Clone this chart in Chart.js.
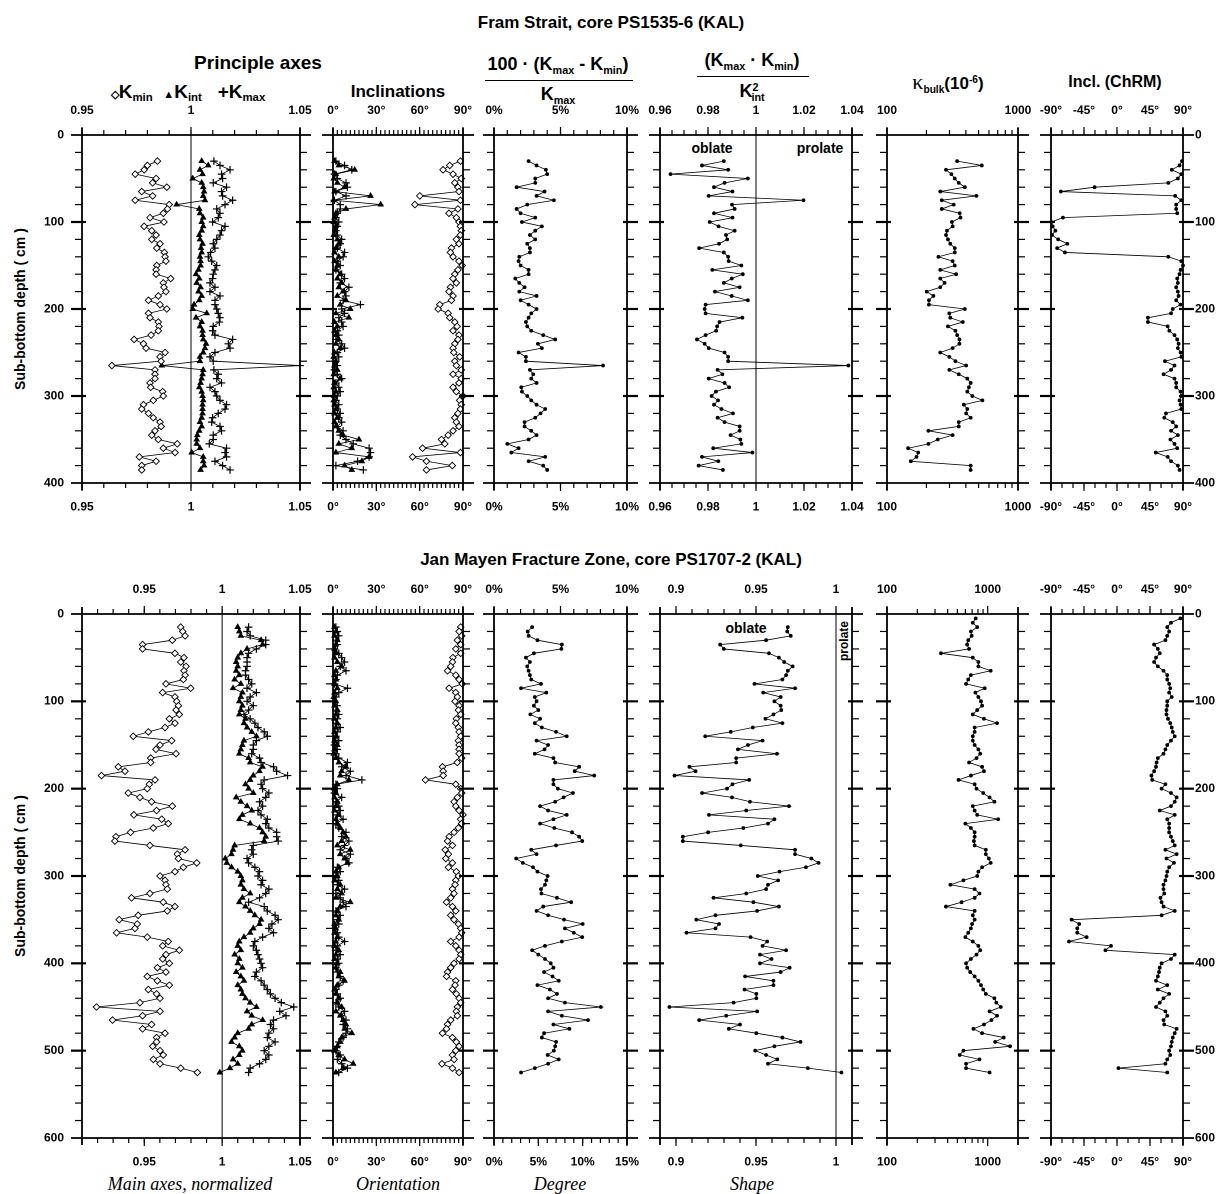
<!DOCTYPE html>
<html><head><meta charset="utf-8">
<script src="https://cdn.jsdelivr.net/npm/chart.js@4.4.1/dist/chart.umd.min.js"></script>
<style>
html,body{margin:0;padding:0;background:#fff;}
body{width:1222px;height:1194px;position:relative;overflow:hidden;font-family:"Liberation Sans",Arial,Helvetica,sans-serif;color:#000;}
canvas{position:absolute;}
.t{position:absolute;white-space:nowrap;font-weight:bold;transform:translate(-50%,-50%);line-height:1;}
.t sub{font-size:60%;vertical-align:-0.35em;line-height:0;}
.t sup{font-size:60%;vertical-align:0.6em;line-height:0;}
.it{font-family:"Liberation Serif","Times New Roman",serif;font-style:italic;font-weight:normal;font-size:18px;}
.rot{transform:translate(-50%,-50%) rotate(-90deg);}
.hl{position:absolute;height:0;border-top:1.6px solid #000;}
</style></head><body>

<div class="t" style="left:611px;top:22px;font-size:17px">Fram Strait, core PS1535-6 (KAL)</div>
<div class="t" style="left:258px;top:62px;font-size:19px">Principle axes</div>
<div class="t" style="left:188px;top:91px;font-size:19px"><span style="font-size:11px">◇</span>K<sub>min</sub>&nbsp; <span style="font-size:11px">▲</span>K<sub>int</sub>&nbsp;&nbsp; +K<sub>max</sub></div>
<div class="t" style="left:398px;top:91px;font-size:17px">Inclinations</div>
<div class="t" style="left:558px;top:64px;font-size:18px">100 · (K<sub>max</sub> - K<sub>min</sub>)</div>
<div class="hl" style="left:485px;top:80px;width:148px"></div>
<div class="t" style="left:558px;top:94px;font-size:18px">K<sub>max</sub></div>
<div class="t" style="left:752px;top:60px;font-size:18px">(K<sub>max</sub> · K<sub>min</sub>)</div>
<div class="hl" style="left:697px;top:76px;width:112px"></div>
<div class="t" style="left:752px;top:91px;font-size:18px">K<sup>2</sup><sub style="margin-left:-7px">int</sub></div>
<div class="t" style="left:948px;top:82px;font-size:17px"><span style="font-family:'Liberation Serif',serif;font-weight:normal;font-size:22px">κ</span><sub>bulk</sub>(10<sup>-6</sup>)</div>
<div class="t" style="left:1115px;top:82px;font-size:16px">Incl. (ChRM)</div>
<div class="t" style="left:712px;top:148px;font-size:14px">oblate</div>
<div class="t" style="left:820px;top:148px;font-size:14px">prolate</div>
<div class="t rot" style="left:20px;top:309px;font-size:14px">Sub-bottom depth ( cm )</div>

<div class="t" style="left:611px;top:559px;font-size:17px">Jan Mayen Fracture Zone, core PS1707-2 (KAL)</div>
<div class="t" style="left:746px;top:628px;font-size:14px">oblate</div>
<div class="t rot" style="left:844px;top:641px;font-size:12px">prolate</div>
<div class="t rot" style="left:20px;top:876px;font-size:14px">Sub-bottom depth ( cm )</div>
<div class="t it" style="left:190px;top:1184px">Main axes, normalized</div>
<div class="t it" style="left:398px;top:1184px">Orientation</div>
<div class="t it" style="left:560px;top:1184px">Degree</div>
<div class="t it" style="left:752px;top:1184px">Shape</div>

<script>
// ---------- Core PS1535-6 (top row) ----------
const depthA=[30,35,40,45,50,55,60,65,70,75,80,85,90,95,100,105,110,115,120,125,130,135,140,145,150,155,160,165,170,175,180,185,190,195,200,205,210,215,220,225,230,235,240,245,250,255,260,265,270,275,280,285,290,295,300,305,310,315,320,325,330,335,340,345,350,355,360,365,370,375,380,385];
const aKmin=[.9846,.980,.9785,.9744,.984,.9824,.9889,.9774,.9824,.9744,
.990,.9892,.9873,.9812,.9876,.9785,.982,.984,.982,.9858,
.9843,.9878,.9881,.9885,.9843,.984,.984,.9907,.9873,.9876,
.9885,.985,.9805,.9858,.9889,.9805,.9812,.985,.9853,.985,
.9817,.9739,.9782,.9794,.9881,.9858,.9863,.9637,.9835,.9835,
.9835,.9812,.9815,.987,.9873,.9827,.9782,.9774,.9805,.9827,
.9858,.9863,.9835,.982,.985,.9937,.9873,.9927,.9763,.984,
.9774,.9774];
const aKint=[1.0049,1.0079,1.0041,1.0053,1.0008,1.0049,1.0056,1.006,1.0056,1.0064,
0.9934,1.0038,1.0041,1.0056,1.0049,1.0056,1.0049,1.0038,1.0041,1.0053,
1.0046,1.0049,1.0041,1.0044,1.0044,1.0034,1.0023,1.0038,1.0026,1.0044,
1.0034,1.0049,1.0038,1.0014,1.0008,1.0072,1.0023,1.0049,1.0041,1.0053,
1.0053,1.0056,1.0069,1.0064,1.0056,1.0041,1.0041,0.9866,1.0056,1.0053,
1.0049,1.0044,1.0038,1.0049,1.0053,1.0056,1.0053,1.0053,1.0053,1.0049,
1.0041,1.0049,1.0038,1.0029,1.0026,1.0026,1.0041,1.0003,1.0056,1.0056,
1.006,1.0044];
const aKmax=[1.0105,1.0133,1.0179,1.014,1.0145,1.0102,1.0163,1.014,1.0145,1.0191,
1.0156,1.0118,1.0133,1.0125,1.0099,1.0156,1.014,1.0133,1.0118,1.0102,
1.011,1.009,1.0079,1.0095,1.0118,1.011,1.0102,1.0099,1.0087,1.011,
1.0087,1.0133,1.011,1.011,1.0118,1.0125,1.0133,1.013,1.0102,1.0099,
1.011,1.0191,1.0171,1.0179,1.011,1.0087,1.0102,1.05,1.0105,1.0125,
1.0118,1.014,1.0087,1.011,1.0118,1.0133,1.0163,1.0156,1.0125,1.0099,
1.0095,1.0133,1.014,1.0102,1.0102,1.0084,1.0163,1.0156,1.0163,1.011,
1.0145,1.0179];
const aIncMin=[88.2,80.8,76.2,83.1,88.8,84.3,86.5,87.2,60.1,88.2,
56.7,86.5,80.3,85.4,87.2,88.2,88.8,88.2,85.4,87.2,
82,81.3,83.1,87.2,89.5,86.5,84.3,83.1,85.4,81.3,
80.3,83.1,82,73.9,72.8,79.7,80.8,84.3,85.9,83.1,
87.2,86.5,84.3,83.1,83.6,87.7,84.3,85.4,88.8,83.1,
88.8,87.2,83.1,85.4,90,87.7,88.8,88.2,86.5,84.3,
85.4,87.2,83.1,79.7,75.1,77.4,62,88.2,55.1,64.7,
82.6,64.7];
const aIncInt=[1,4,15,2,0.5,3,8,1,26,0.5,
33,9,2,1,0.5,2,1.5,0.5,3,4,
2,1,4,1,3,2,5,3,6,4,
7,3,9,5,12,2,11,1,3,1,
2,4,2,5,1,0.5,2,1,3,0.5,
5,1,0.5,2,1,0.5,1,2,1,3,
1,2,4,7,18,4,13,2,25,20,
8,13];
const aIncMax=[2,8,13,1,3,9,10,2,9,1,
5,5,3,2,4,3,2,3,6,5,
3,8,7,3,5,2,6,8,5,11,
8,9,7,19,6,8,4,6,7,3,
4,2,6,8,3,4,2,3,1,3,
6,2,4,5,3,2,4,3,5,4,
6,3,7,5,9,14,25,26,25,17,
2,21];
const aDeg=[2.6,3.2,3.9,4.0,3.1,3.1,1.7,3.8,3.2,4.5,
2.5,1.7,2.0,3.1,2.1,3.6,3.1,2.7,3.1,2.5,
2.7,2.7,1.9,1.85,2.0,2.6,2.6,1.6,1.9,2.3,
1.9,3.2,2.0,2.6,3.2,2.8,2.6,2.4,2.5,2.8,
3.7,4.6,3.3,3.6,1.85,2.4,2.4,8.2,2.7,2.95,
2.8,3.2,2.05,2.1,2.5,2.8,3.2,3.85,3.5,3.1,
2.3,2.3,2.8,3.2,2.6,1.0,1.85,1.3,3.85,2.6,
3.7,4.0];
const aShape=[.9866,.9775,.9884,.9644,.9966,.9869,.9825,.9902,.9803,1.0198,
.9900,.9911,.9825,.9902,.9807,.9844,.9911,.9875,.9880,.9846,
.9763,.9866,.9884,.9886,.9939,.9818,.9945,.9899,.9866,.9932,
.9829,.9899,.9966,.9790,.9786,.9790,.9943,.9848,.9838,.9834,
.9790,.9754,.9786,.9803,.9869,.9884,.9884,1.0385,.9840,.9860,
.9803,.9869,.9888,.9833,.9815,.9842,.9825,.9856,.9904,.9840,
.9869,.9932,.9932,.9894,.9935,.9939,.9822,.9985,.9775,.9843,
.9761,.9862];
const aKbulk=[343,529,282,310,329,353,393,255,481,262,
323,262,359,364,313,317,287,282,292,304,
329,329,247,317,329,255,337,255,275,255,
201,226,209,209,393,299,304,379,292,333,
343,357,357,317,255,299,333,402,299,353,
410,435,422,410,448,535,386,410,402,435,
353,353,207,317,244,207,145,173,168,152,
435,435];
const aChrm=[88.6,85.3,74.7,87.7,83,70,-30.6,-76.5,79.3,87.7,
80.7,80.7,82.1,-73.7,-89.5,-87.7,-84,-88.6,-80.2,-67.7,
-81.6,-71,70,87.7,90,86.7,85.3,82.1,83,80.7,
83,84,80.7,86.7,76,73.7,42.2,42.2,69.1,71.4,
78.4,82.1,84,83,86.7,87.7,65.4,78.4,73.7,63.5,
78.4,80.7,80.7,86.7,87.7,85.3,86.7,87.7,66.8,64.5,
76,80.7,73.7,83,72.8,78.4,82.1,52.9,69.1,73.7,
83,85.3];

// ---------- Core PS1707-2 (bottom row) ----------
const depthB=[15,20,25,30,35,40,45,50,55,60,65,70,75,80,85,90,95,100,105,110,115,120,125,130,135,140,145,150,155,160,165,170,175,180,185,190,195,200,205,210,215,220,225,230,235,240,245,250,255,260,265,270,275,280,285,290,295,300,305,310,315,320,325,330,335,340,345,350,355,360,365,370,375,380,385,390,395,400,405,410,415,420,425,430,435,440,445,450,455,460,465,470,475,480,485,490,495,500,505,510,515,520,525];
const depthB2=[5,10,15,20,25,30,35,40,45,50,55,60,65,70,75,80,85,90,95,100,105,110,115,120,125,130,135,140,145,150,155,160,165,170,175,180,185,190,195,200,205,210,215,220,225,230,235,240,245,250,255,260,265,270,275,280,285,290,295,300,305,310,315,320,325,330,335,340,345,350,355,360,365,370,375,380,385,390,395,400,405,410,415,420,425,430,435,440,445,450,455,460,465,470,475,480,485,490,495,500,505,510,515,520,525];
const bKmin=[.9734,.9747,.9762,.9680,.9489,.9489,.9697,.9755,.9734,.9768,
.9755,.9762,.9751,.9639,.9798,.9618,.9697,.9708,.9719,.9704,
.9725,.9661,.9697,.9633,.9526,.9429,.9676,.9601,.9575,.9704,
.9541,.9541,.9333,.9376,.9225,.9569,.9532,.9519,.9397,.9472,
.9547,.9680,.9579,.9433,.9612,.9654,.9558,.9412,.9318,.9311,
.9536,.9762,.9712,.9719,.9837,.9751,.9697,.9601,.9633,.9639,
.9648,.9536,.9418,.9622,.9697,.9648,.9461,.9339,.9455,.9440,
.9322,.9519,.9654,.9618,.9725,.9639,.9618,.9661,.9584,.9639,
.9519,.9584,.9661,.9526,.9579,.9601,.9472,.9193,.9601,.9489,
.9296,.9547,.9489,.9633,.9579,.9579,.9554,.9601,.9622,.9558,
.9601,.9734,.9841];
const bKint=[1.010,1.011,1.012,1.025,1.026,1.016,1.012,1.010,1.009,1.010,
1.009,1.011,1.008,1.012,1.007,1.013,1.012,1.011,1.013,1.012,
1.011,1.015,1.014,1.016,1.019,1.022,1.014,1.013,1.012,1.011,
1.017,1.018,1.026,1.024,1.020,1.018,1.015,1.017,1.020,1.009,
1.012,1.016,1.019,1.013,1.011,1.018,1.024,1.026,1.028,1.027,
1.008,1.007,1.006,1.002,1.003,1.006,1.010,1.012,1.013,1.012,
1.014,1.018,1.013,1.011,1.015,1.018,1.021,1.025,1.024,1.020,
1.018,1.014,1.011,1.010,1.012,1.008,1.011,1.010,1.013,1.009,
1.012,1.014,1.010,1.012,1.013,1.015,1.018,1.022,1.016,1.019,
1.026,1.019,1.017,1.010,1.008,1.006,1.011,1.013,1.011,1.007,
1.010,1.005,0.9985];
const bKmax=[1.017,1.016,1.018,1.028,1.028,1.022,1.017,1.016,1.016,1.016,
1.015,1.015,1.017,1.019,1.016,1.022,1.018,1.016,1.020,1.017,
1.014,1.018,1.021,1.023,1.027,1.029,1.022,1.020,1.020,1.019,
1.024,1.025,1.033,1.035,1.042,1.027,1.025,1.026,1.030,1.028,
1.024,1.026,1.023,1.025,1.029,1.028,1.030,1.035,1.035,1.036,
1.020,1.019,1.020,1.016,1.017,1.021,1.024,1.023,1.026,1.025,
1.030,1.028,1.024,1.017,1.027,1.029,1.034,1.036,1.032,1.030,
1.033,1.026,1.021,1.020,1.022,1.023,1.024,1.025,1.026,1.022,
1.021,1.025,1.027,1.029,1.031,1.034,1.038,1.046,1.037,1.041,
1.033,1.031,1.033,1.030,1.029,1.034,1.030,1.027,1.030,1.028,
1.024,1.018,1.017];
const bIncMin=[88.4,87.3,89.1,86.1,88.4,85,88.4,83,82.7,81.5,
79.3,85,87.3,89.5,80.4,85,86.1,84.5,87.3,86.8,
88.4,85.4,85,86.8,87.3,88.4,86.8,87.3,87.3,87.3,
89.1,86,75.8,76.3,76.3,64,85,88.4,89.1,86.1,
83.8,85,87.3,90,88.4,89.1,86.8,83.8,80.4,79.3,
82.7,77.7,79.9,78.1,82.7,79.9,85.4,86.8,85,84.5,
82.7,83.8,81.5,78.6,82.7,85,81.5,83.8,86.8,88.4,
89.1,87.3,81.5,85,87.3,88.4,87.3,83.8,81.5,79.3,
78.6,85,84.5,82.7,85.4,87.3,88.4,86.1,85.4,86.1,
81.5,79.3,78.6,75.8,82.7,85.4,87.3,85,82.7,83.8,
75.4,82.7,87.3];
const bIncInt=[1,2,1,3,2,1,2,1,3,6,
2,1,2,1,3,1,0.5,2,1,3,
2,1,3,2,1,2,1,3,1,0.5,
2,4,9,6,5,11,3,1,2,1,
3,2,1,4,2,3,5,7,9,6,
3,12,5,8,10,4,2,3,1,5,
3,6,2,12,5,3,2,4,1,2,
1,3,2,1,4,2,1,3,2,5,
4,8,3,1,2,4,3,6,2,5,
7,9,8,13,6,5,3,1,4,8,
14,7,2];
const bIncMax=[2,3,4,2,3,1,4,6,8,5,
9,3,2,1,10,4,2,1,3,2,
4,3,2,5,3,2,4,1,3,2,
4,10,6,12,9,20,2,3,1,6,
2,4,5,3,7,2,4,9,6,11,
8,5,12,9,11,3,5,2,4,3,
8,2,5,7,9,2,5,3,4,1,
3,4,8,3,2,5,3,4,2,3,
5,7,4,2,3,5,2,4,8,6,
9,7,10,9,7,4,3,2,5,3,
6,10,4];
const bDeg=[4.3,3.8,3.9,4.9,7.65,7.6,4.5,3.6,4.05,3.75,
3.9,4.05,4.2,5.3,3.05,5.9,4.6,4.8,4.5,5.0,
4.1,5.2,4.6,5.4,7.0,8.2,4.8,6.1,5.7,4.6,
6.7,6.9,9.6,9.1,11.3,6.7,6.7,7.2,8.9,7.85,
6.9,5.2,6.1,8.2,6.7,5.2,6.8,8.8,9.6,9.95,
7.0,4.2,4.8,2.5,3.25,4.4,4.9,6.05,5.9,5.75,
5.3,5.35,7.1,8.7,5.55,4.8,6.1,7.9,10.0,8.0,
9.0,9.95,7.65,5.75,4.3,5.0,5.75,6.4,6.7,5.65,
6.6,7.3,4.9,6.3,7.1,6.1,8.0,12.05,6.1,7.65,
10.6,6.7,8.5,5.65,5.4,7.0,6.9,6.75,6.05,7.3,
6.1,4.6,3.05];
const bShape=[.9699,.9695,.9717,.9563,.9276,.9299,.9581,.9643,.9676,.9729,
.9699,.9688,.9665,.9491,.9744,.9545,.9654,.9615,.9654,.9658,
.9609,.9559,.9665,.9480,.9342,.9183,.9541,.9450,.9387,.9631,
.9376,.9376,.9084,.9122,.8991,.9457,.9353,.9319,.9163,.9350,
.9462,.9706,.9439,.9206,.9615,.9575,.9421,.9201,.9043,.9043,
.9405,.9744,.9744,.9846,.9891,.9812,.9647,.9511,.9638,.9575,
.9563,.9439,.9235,.9484,.9643,.9507,.9247,.9127,.9269,.9247,
.9066,.9466,.9570,.9541,.9688,.9525,.9597,.9525,.9710,.9654,
.9432,.9609,.9609,.9428,.9502,.9502,.9360,.8959,.9507,.9314,
.9145,.9400,.9330,.9502,.9665,.9778,.9615,.9495,.9563,.9633,
.9575,.9824,1.0034];
const bKbulk=[761,711,787,681,693,641,625,653,344,711,
808,808,1071,681,641,610,934,755,808,858,
880,787,711,918,1238,742,742,711,711,742,
808,843,774,653,880,918,681,514,742,774,
903,1044,1166,711,742,787,1270,600,681,742,
742,730,742,958,958,1026,1071,880,808,787,
574,426,742,829,742,550,385,742,711,742,
700,681,641,600,711,808,843,774,681,610,
625,670,742,808,858,903,958,1166,1217,1349,
1044,1238,1089,918,722,880,1443,1186,1668,574,
527,829,610,610,1044];
const bChrm=[86.4,73.6,68.5,71.1,68.5,66,50.6,55.7,58.3,53.2,
50.6,55.7,63.4,68.5,68.5,71.1,72.6,71.1,74.6,68.5,
68.5,67.5,67.5,69.5,72.6,74.6,76,78.7,73.6,68.5,
66,63.4,55.7,54,53.2,50.6,47,48,66,60.8,
73.6,81.3,78.7,73.6,58.3,78.7,68.5,71.1,71.1,71.1,
73.6,76,78.7,66,81.3,67.5,77.7,71.1,68.5,67.5,
66,63.4,63.4,64.4,59.3,60.8,63.4,78.7,60.8,-61.9,
-51.6,-54.2,-54.2,-41.4,-65.4,-8.2,-15.8,78.7,73.6,60.8,
58.3,57.3,55.7,53.2,68.5,55.7,71.1,63.4,58.3,53.2,
66,68.5,63.4,64.4,81.3,78.7,76,74.6,73.6,71.1,
72.6,68.5,66,2,68.5];

// ---------- tick labels ----------
const tkAxes1=[0.95,1,1.05], tkAxes2=[0.95,1,1.05];
const tkInc=[0,30,60,90];
const tkDeg1=[0,5,10], tkDeg2=[0,5,10,15];
const tkShape1=[0.96,0.98,1,1.02,1.04], tkShape2=[0.9,0.95,1];
const tkBulk=[100,1000];
const tkChrm=[-90,-45,0,45,90];
const tkDepth1=[0,100,200,300,400], tkDepth2=[0,100,200,300,400,500,600];

// ---------- drawing ----------
const FF='"Liberation Sans", Arial, sans-serif';
const tickFont={family:FF,size:12,weight:'bold'};
function range(a,b,s){const r=[];for(let v=a;v<=b+1e-9;v+=s)r.push(+v.toFixed(5));return r;}
function pts(ys,xs){return xs.map((v,i)=>({x:v,y:ys[i]}));}
const ST={
  kmin:{pointStyle:'rectRot',pointRadius:3.3,pointBackgroundColor:'#fff',pointBorderColor:'#000',pointBorderWidth:0.9},
  kint:{pointStyle:'triangle',pointRadius:3.1,pointBackgroundColor:'#000',pointBorderColor:'#000',pointBorderWidth:0.8},
  kmax:{pointStyle:'cross',pointRadius:3.8,pointBorderColor:'#000',pointBorderWidth:1.2},
  dot:{pointStyle:'circle',pointRadius:1.9,pointBackgroundColor:'#000',pointBorderColor:'#000',pointBorderWidth:0}
};
function ds(data,st){return Object.assign({data,showLine:true,borderColor:'#000',borderWidth:0.8,clip:false,pointHoverRadius:0},st);}
const pct=v=>v+'%', deg=v=>v+'°', num=v=>String(v);

function drawFrame(chart,o){
  const c=chart.ctx,a=chart.chartArea,sx=chart.scales.x,st=chart.scales.xt,sy=chart.scales.y;
  const L=(x1,y1,x2,y2)=>{c.beginPath();c.moveTo(x1,y1);c.lineTo(x2,y2);c.stroke();};
  c.save();c.strokeStyle='#000';c.lineCap='butt';
  c.lineWidth=1;
  (o.vlines||[]).forEach(v=>{const p=sx.getPixelForValue(v);L(p,a.top,p,a.bottom);});
  c.lineWidth=1.8;
  L(a.left-11,a.top,a.right+11,a.top);L(a.left-11,a.bottom,a.right+11,a.bottom);
  L(a.left,a.top-7,a.left,a.bottom+7);L(a.right,a.top-7,a.right,a.bottom+7);
  c.lineWidth=1.2;
  o.topMinor.forEach(v=>{const p=st.getPixelForValue(v);L(p,a.top,p,a.top-5);});
  o.topLab.forEach(v=>{const p=st.getPixelForValue(v);L(p,a.top,p,a.top-8);});
  o.botMinor.forEach(v=>{const p=sx.getPixelForValue(v);L(p,a.bottom,p,a.bottom+5);});
  o.botLab.forEach(v=>{const p=sx.getPixelForValue(v);L(p,a.bottom,p,a.bottom+8);});
  for(let d=20;d<o.ymax;d+=20){const p=sy.getPixelForValue(d);
    if(d%100===0){c.lineWidth=2.2;L(a.left-11,p,a.left+4,p);L(a.right-4,p,a.right+11,p);}
    else{c.lineWidth=1.2;L(a.left-7,p,a.left,p);L(a.right,p,a.right+7,p);}}
  c.restore();
}

function panel(o){
  const PT=44,PB=44;
  const padL=o.left?72:24,padR=o.right?50:24;
  const w=o.x1-o.x0,h=o.y1-o.y0,W=w+padL+padR,H=h+PT+PB;
  const cv=document.createElement('canvas');
  cv.style.left=(o.x0-padL)+'px';cv.style.top=(o.y0-PT)+'px';
  cv.style.width=W+'px';cv.style.height=H+'px';cv.width=W;cv.height=H;
  document.body.appendChild(cv);
  const type=o.type||'linear';
  const xa=(pos,min,max,labels,hh)=>({type,axis:'x',position:pos,min,max,offset:false,
    grid:{display:false,drawTicks:false},border:{display:false},
    ticks:{padding:17,font:tickFont,color:'#000',autoSkip:false,maxRotation:0,minRotation:0,callback:v=>o.fmt(v)},
    afterBuildTicks:s=>{s.ticks=labels.map(v=>({value:v}));},
    afterFit:s=>{s.height=hh;s.paddingLeft=0;s.paddingRight=0;}});
  const ya=(pos,show,ww)=>({type:'linear',axis:'y',position:pos,min:0,max:o.ymax,reverse:true,
    grid:{display:false,drawTicks:false},border:{display:false},
    ticks:{display:show,padding:pos==='left'?18:12,font:tickFont,color:'#000',autoSkip:false,callback:v=>String(v)},
    afterBuildTicks:s=>{s.ticks=o.ylab.map(v=>({value:v}));},
    afterFit:s=>{s.width=ww;s.paddingTop=0;s.paddingBottom=0;}});
  new Chart(cv,{type:'scatter',data:{datasets:o.datasets},
    options:{responsive:false,animation:false,events:[],devicePixelRatio:2,layout:{padding:0},
      plugins:{legend:{display:false},tooltip:{enabled:false}},
      scales:{x:xa('bottom',o.min,o.max,o.botLab,PB),
              xt:xa('top',o.tmin!==undefined?o.tmin:o.min,o.tmax!==undefined?o.tmax:o.max,o.topLab,PT),
              y:ya('left',!!o.left,padL),yr:ya('right',!!o.right,padR)}},
    plugins:[{id:'frame',afterDraw:ch=>drawFrame(ch,o)}]});
}

const COLS=[[82,300],[333,463],[494,627],[660,852],[887,1018],[1051,1183]];
const R1={y0:135,y1:483,ymax:400,ylab:tkDepth1};
const R2={y0:614,y1:1138,ymax:600,ylab:tkDepth2};
function P(col,row,extra){panel(Object.assign({x0:COLS[col][0],x1:COLS[col][1]},row,extra));}
const logMinor=[200,300,400,500,600,700,800,900];

// top row
P(0,R1,{left:true,min:0.95,max:1.05,fmt:num,topLab:tkAxes1,botLab:tkAxes1,topMinor:range(0.95,1.05,0.01),botMinor:range(0.95,1.05,0.01),vlines:[1],
  datasets:[ds(pts(depthA,aKmin),ST.kmin),ds(pts(depthA,aKint),ST.kint),ds(pts(depthA,aKmax),ST.kmax)]});
P(1,R1,{min:0,max:90,fmt:deg,topLab:tkInc,botLab:tkInc,topMinor:range(0,90,3),botMinor:range(0,90,3),
  datasets:[ds(pts(depthA,aIncMin),ST.kmin),ds(pts(depthA,aIncInt),ST.kint),ds(pts(depthA,aIncMax),ST.kmax)]});
P(2,R1,{min:0,max:10,fmt:pct,topLab:tkDeg1,botLab:tkDeg1,topMinor:range(0,10,1),botMinor:range(0,10,1),
  datasets:[ds(pts(depthA,aDeg),ST.dot)]});
P(3,R1,{min:0.96,max:1.04,fmt:num,topLab:tkShape1,botLab:tkShape1,topMinor:range(0.96,1.04,0.005),botMinor:range(0.96,1.04,0.005),vlines:[1],
  datasets:[ds(pts(depthA,aShape),ST.dot)]});
P(4,R1,{type:'logarithmic',min:100,max:1000,fmt:num,topLab:tkBulk,botLab:tkBulk,topMinor:logMinor,botMinor:logMinor,
  datasets:[ds(pts(depthA,aKbulk),ST.dot)]});
P(5,R1,{right:true,min:-90,max:90,fmt:deg,topLab:tkChrm,botLab:tkChrm,topMinor:range(-90,90,15),botMinor:range(-90,90,15),
  datasets:[ds(pts(depthA,aChrm),ST.dot)]});

// bottom row
P(0,R2,{left:true,min:0.91,max:1.05,fmt:num,topLab:tkAxes2,botLab:tkAxes2,topMinor:range(0.91,1.05,0.01),botMinor:range(0.91,1.05,0.01),vlines:[1],
  datasets:[ds(pts(depthB,bKmin),ST.kmin),ds(pts(depthB,bKint),ST.kint),ds(pts(depthB,bKmax),ST.kmax)]});
P(1,R2,{min:0,max:90,fmt:deg,topLab:tkInc,botLab:tkInc,topMinor:range(0,90,3),botMinor:range(0,90,3),
  datasets:[ds(pts(depthB,bIncMin),ST.kmin),ds(pts(depthB,bIncInt),ST.kint),ds(pts(depthB,bIncMax),ST.kmax)]});
P(2,R2,{min:0,max:15,tmin:0,tmax:10,fmt:pct,topLab:tkDeg1,botLab:tkDeg2,topMinor:range(0,10,1),botMinor:range(0,15,1),
  datasets:[ds(pts(depthB,bDeg),ST.dot)]});
P(3,R2,{min:0.89,max:1.01,fmt:num,topLab:tkShape2,botLab:tkShape2,topMinor:range(0.89,1.01,0.01),botMinor:range(0.89,1.01,0.01),vlines:[1],
  datasets:[ds(pts(depthB,bShape),ST.dot)]});
P(4,R2,{type:'logarithmic',min:100,max:2000,fmt:num,topLab:tkBulk,botLab:tkBulk,topMinor:logMinor,botMinor:logMinor,
  datasets:[ds(pts(depthB2,bKbulk),ST.dot)]});
P(5,R2,{right:true,min:-90,max:90,fmt:deg,topLab:tkChrm,botLab:tkChrm,topMinor:range(-90,90,15),botMinor:range(-90,90,15),
  datasets:[ds(pts(depthB2,bChrm),ST.dot)]});
</script>
</body></html>
